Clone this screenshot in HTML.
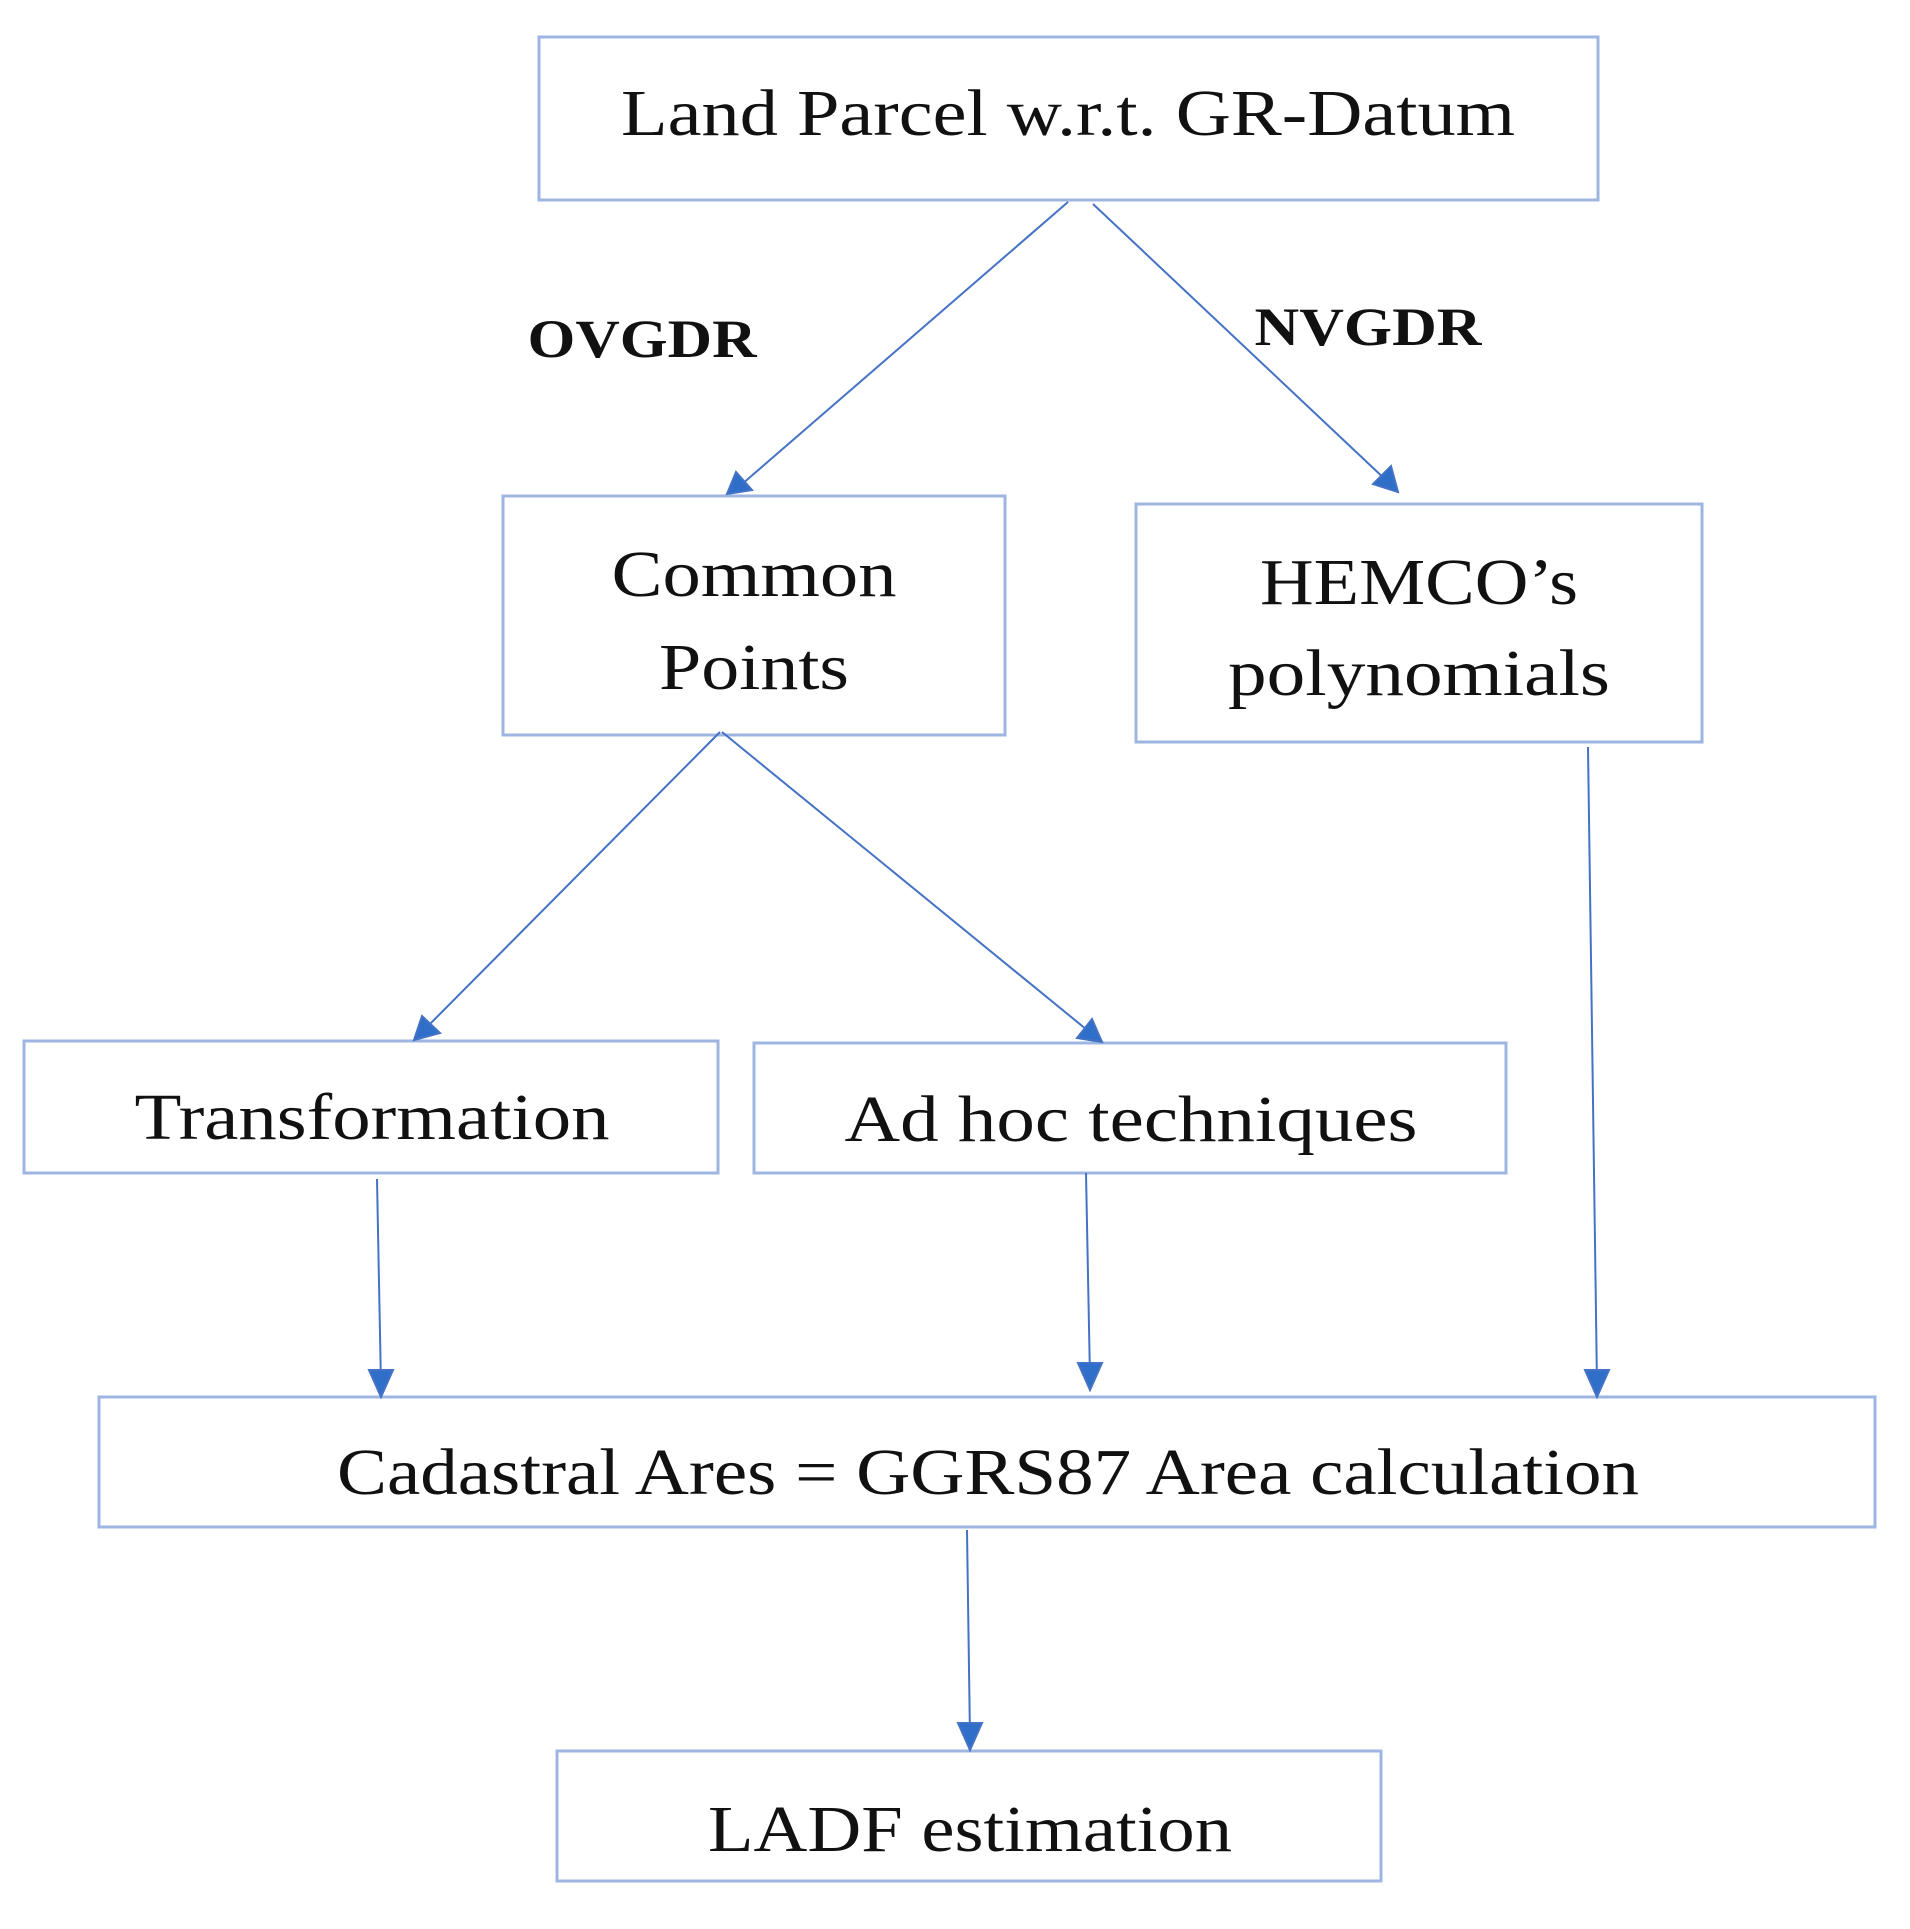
<!DOCTYPE html>
<html><head><meta charset="utf-8"><style>html,body{margin:0;padding:0;background:#fff}</style></head>
<body>
<svg width="1910" height="1924" viewBox="0 0 1910 1924" xmlns="http://www.w3.org/2000/svg">
<defs>
<marker id="a" markerWidth="10" markerHeight="10" refX="9" refY="5" orient="auto" markerUnits="userSpaceOnUse" viewBox="0 0 10 10">
</marker>
</defs>
<g fill="none" stroke="#9db5e0" stroke-width="3">
<rect x="539" y="37" width="1059" height="163"/>
<rect x="503" y="496" width="502" height="239"/>
<rect x="1136" y="504" width="566" height="238"/>
<rect x="24" y="1041" width="694" height="132"/>
<rect x="754" y="1043" width="752" height="130"/>
<rect x="99" y="1397" width="1776" height="130"/>
<rect x="557" y="1751" width="824" height="130"/>
</g>
<g stroke="#4472c4" stroke-width="2" fill="#2f6fc9">
<line x1="1068" y1="202" x2="741" y2="485"/>
<polygon points="727,494 736,472 752,490"/>
<line x1="1093" y1="204" x2="1388" y2="482"/>
<polygon points="1398,492 1373,484 1391,466"/>
<line x1="720" y1="732" x2="424" y2="1030"/>
<polygon points="414,1040 422,1016 440,1033"/>
<line x1="722" y1="732" x2="1092" y2="1034"/>
<polygon points="1102,1042 1077,1038 1092,1019"/>
<line x1="377" y1="1179" x2="381" y2="1385"/>
<polygon points="381,1397 369,1370 393,1370"/>
<line x1="1086" y1="1173" x2="1090" y2="1378"/>
<polygon points="1090,1390 1078,1363 1102,1363"/>
<line x1="1588" y1="747" x2="1597" y2="1385"/>
<polygon points="1597,1397 1585,1370 1609,1370"/>
<line x1="967" y1="1530" x2="970" y2="1738"/>
<polygon points="970,1750 958,1723 982,1723"/>
</g>
<g font-family="Liberation Serif, serif" font-size="66" fill="#111" text-anchor="middle">
<text x="1068" y="135" textLength="894" lengthAdjust="spacingAndGlyphs">Land Parcel w.r.t. GR-Datum</text>
<text x="754" y="596" textLength="285" lengthAdjust="spacingAndGlyphs">Common</text>
<text x="754" y="689" textLength="190" lengthAdjust="spacingAndGlyphs">Points</text>
<text x="1419" y="604" textLength="318" lengthAdjust="spacingAndGlyphs">HEMCO’s</text>
<text x="1419" y="695" textLength="382" lengthAdjust="spacingAndGlyphs">polynomials</text>
<text x="372" y="1139" textLength="475" lengthAdjust="spacingAndGlyphs">Transformation</text>
<text x="1131" y="1141" textLength="573" lengthAdjust="spacingAndGlyphs">Ad hoc techniques</text>
<text x="988" y="1494" textLength="1302" lengthAdjust="spacingAndGlyphs">Cadastral Ares = GGRS87 Area calculation</text>
<text x="970" y="1851" textLength="524" lengthAdjust="spacingAndGlyphs">LADF estimation</text>
</g>
<g font-family="Liberation Serif, serif" font-size="54" font-weight="bold" fill="#111" text-anchor="middle">
<text x="642" y="357" textLength="229" lengthAdjust="spacingAndGlyphs">OVGDR</text>
<text x="1368" y="345" textLength="227" lengthAdjust="spacingAndGlyphs">NVGDR</text>
</g>
</svg>
</body></html>
